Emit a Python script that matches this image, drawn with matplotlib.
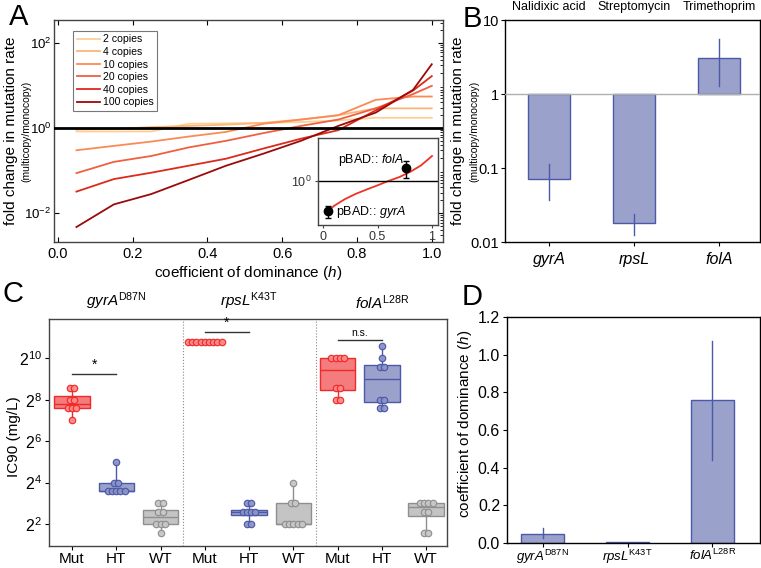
import numpy as np
import matplotlib
matplotlib.use("Agg")
import matplotlib.pyplot as plt

plt.rcParams['font.family'] = ['Liberation Sans', 'DejaVu Sans']
plt.rcParams['mathtext.fontset'] = 'custom'
plt.rcParams['mathtext.rm'] = 'Liberation Sans'
plt.rcParams['mathtext.it'] = 'Liberation Sans:italic'
plt.rcParams['mathtext.bf'] = 'Liberation Sans:bold'
plt.rcParams['axes.linewidth'] = 1.0

# ---------------- Panel A data ----------------
h_grid = [0.05, 0.15, 0.25, 0.35, 0.45, 0.55, 0.65, 0.75, 0.85, 0.95, 1.0]
copies_labels = ['2 copies', '4 copies', '10 copies', '20 copies', '40 copies', '100 copies']
fc_2 = [0.83, 0.83, 0.83, 1.26, 1.29, 1.32, 1.38, 1.51, 1.74, 1.74, 1.74]
fc_4 = [0.93, 0.95, 1.05, 1.12, 1.20, 1.32, 1.58, 2.0, 2.9, 2.9, 2.9]
fc_10 = [0.30, 0.38, 0.48, 0.63, 0.81, 1.26, 1.58, 2.0, 4.6, 5.5, 5.5]
fc_20 = [0.087, 0.16, 0.22, 0.35, 0.50, 0.76, 1.12, 1.58, 2.9, 6.3, 9.8]
fc_40 = [0.032, 0.063, 0.089, 0.13, 0.19, 0.33, 0.56, 0.89, 2.6, 7.6, 16.6]
fc_100 = [0.0047, 0.016, 0.028, 0.06, 0.13, 0.25, 0.50, 1.12, 2.3, 7.9, 31.6]
copies_colors = ['#fdcf95', '#fdb57a', '#fc8a55', '#f0603f', '#dc2a1c', '#9b0a0a']

# inset
inset_h = [0.05, 0.1, 0.2, 0.3, 0.4, 0.5, 0.6, 0.7, 0.8, 0.9, 1.0]
inset_fc = [0.071, 0.11, 0.20, 0.32, 0.47, 0.68, 1.0, 1.41, 2.24, 3.98, 9.1]

# ---------------- Panel B data ----------------
genes = ['gyrA', 'rpsL', 'folA']
drugs = ['Nalidixic acid', 'Streptomycin', 'Trimethoprim']
fold_change = [0.07, 0.0178, 3.1]
fold_lo = [0.037, 0.0123, 1.27]
fold_hi = [0.112, 0.0236, 5.6]

# ---------------- Panel D data ----------------
dominance = [0.049, 0.005, 0.757]
dom_lo = [0.026, 0.004, 0.44]
dom_hi = [0.079, 0.006, 1.07]
mutations = ['D87N', 'K43T', 'L28R']

# ---------------- Panel C data (IC90, mg/L) ----------------
group_names = ['Mut', 'HT', 'WT']
ic90 = {
    ('gyrA', 'Mut'): [384, 384, 256, 256, 192, 192, 192, 128],
    ('gyrA', 'HT'): [32, 16, 16, 12, 12, 12, 12, 12],
    ('gyrA', 'WT'): [8, 8, 6, 6, 4, 4, 4, 3],
    ('rpsL', 'Mut'): [1792] * 9,
    ('rpsL', 'HT'): [8, 8, 6, 6, 6, 6, 4, 4],
    ('rpsL', 'WT'): [16, 8, 8, 4, 4, 4, 4, 4],
    ('folA', 'Mut'): [1024, 1024, 1024, 1024, 384, 384, 256, 256],
    ('folA', 'HT'): [1536, 1024, 768, 768, 256, 256, 192, 192],
    ('folA', 'WT'): [8, 8, 8, 8, 6, 6, 3, 3],
}
sig_labels = ['*', '*', 'n.s.']
sig_heights = [609, 2487, 1911]

W, H = 761, 568
fig = plt.figure(figsize=(W / 100, H / 100), dpi=100)

def fr(l, t, r, b):
    return [l / W, 1 - b / H, (r - l) / W, (b - t) / H]

def fx(x):
    return x / W

def fy(y):
    return 1 - y / H

FS = 10.5
# ================= Panel A =================
axA = fig.add_axes(fr(54, 20, 443, 242))
series = [fc_2, fc_4, fc_10, fc_20, fc_40, fc_100]
for s, lab, c in zip(series, copies_labels, copies_colors):
    axA.plot(h_grid, s, color=c, lw=1.3, label=lab)
axA.axhline(1, color='black', lw=2.0, zorder=5)
axA.set_yscale('log')
axA.set_xlim(-0.01, 1.03)
axA.set_ylim(10 ** -2.68, 10 ** 2.54)
axA.set_xticks([0, 0.2, 0.4, 0.6, 0.8, 1.0])
axA.set_xticklabels(['0.0', '0.2', '0.4', '0.6', '0.8', '1.0'])
axA.set_yticks([1e-2, 1, 1e2])
axA.set_yticklabels(['$10^{-2}$', '$10^{0}$', '$10^{2}$'])
axA.yaxis.set_minor_locator(matplotlib.ticker.LogLocator(base=10, subs=np.arange(2, 10)))
axA.yaxis.set_minor_formatter(matplotlib.ticker.NullFormatter())
axA.tick_params(which='both', direction='in', top=True, right=True, labelsize=FS)
axA.tick_params(axis='y', labelsize=9.5, pad=2)
axA.tick_params(which='minor', left=False, length=2)
for sp in axA.spines.values():
    sp.set_color('#444444')
axA.set_xlabel('coefficient of dominance ($h$)', fontsize=FS + 0.5)
axA.xaxis.set_label_coords(0.5, -0.098)
fig.text(fx(11), fy(131), 'fold change in mutation rate', rotation=90, fontsize=FS + 0.5,
         ha='center', va='center')
fig.text(fx(26), fy(131), '(multicopy/monocopy)', rotation=90, fontsize=7.5,
         ha='center', va='center')
leg = axA.legend(loc='upper left', bbox_to_anchor=(0.05, 0.95), fontsize=7.6, frameon=True,
                 fancybox=False, edgecolor='#555555', handlelength=2.2, handletextpad=0.3,
                 labelspacing=0.25, borderpad=0.3, borderaxespad=0)
leg.get_frame().set_linewidth(0.8)

# inset
axI = fig.add_axes(fr(318, 138, 438, 225))
axI.plot(inset_h, inset_fc, color='#ee3322', lw=1.3)
axI.axhline(1, color='black', lw=1.0)
hx = [dominance[0], dominance[2]]
fyv = [fold_change[0], fold_change[2]]
yerr = [[fold_change[0] - fold_lo[0], fold_change[2] - fold_lo[2]],
        [fold_hi[0] - fold_change[0], fold_hi[2] - fold_change[2]]]
axI.errorbar(hx, fyv, yerr=yerr, fmt='o', color='black', ms=6, capsize=2, elinewidth=1, zorder=6)
axI.set_yscale('log')
axI.set_xlim(-0.046, 1.055)
axI.set_ylim(10 ** -1.69, 10 ** 1.65)
axI.set_xticks([0, 0.5, 1])
axI.set_xticklabels(['0', '0.5', '1'])
axI.set_yticks([1])
axI.set_yticklabels(['$10^{0}$'])
axI.yaxis.set_minor_locator(matplotlib.ticker.NullLocator())
axI.tick_params(labelsize=9, direction='out', length=2.5, pad=2, colors='#444444',
                labelcolor='#333333')
for sp in axI.spines.values():
    sp.set_color('#444444')
axI.text(0.14, 6.3, 'pBAD:: $\\mathit{folA}$', fontsize=9, ha='left', va='center')
axI.text(0.12, 0.066, 'pBAD:: $\\mathit{gyrA}$', fontsize=9, ha='left', va='center')

# ================= Panel B =================
axB = fig.add_axes(fr(505, 20, 760, 242))
xb = np.arange(len(genes))
bar_face = '#9aa2cc'
bar_edge = '#4c58a8'
heights = [v - 1 for v in fold_change]
axB.bar(xb, heights, bottom=1, width=0.5, color=bar_face, edgecolor=bar_edge, lw=1.0, zorder=2)
for i in range(len(genes)):
    axB.plot([xb[i], xb[i]], [fold_lo[i], fold_hi[i]], color=bar_edge, lw=1.0, zorder=3)
axB.axhline(1, color='#b0b0b0', lw=1.0, zorder=3)
axB.set_yscale('log')
axB.set_ylim(0.01, 10)
axB.set_xlim(-0.52, 2.48)
axB.set_yticks([0.01, 0.1, 1, 10])
axB.set_yticklabels(['0.01', '0.1', '1', '10'])
axB.yaxis.set_minor_locator(matplotlib.ticker.NullLocator())
axB.set_xticks(xb)
axB.set_xticklabels(genes, fontstyle='italic', fontsize=FS + 1)
axB.tick_params(axis='y', labelsize=FS, pad=1.5, length=3)
axB.tick_params(axis='x', length=3, pad=4)
for i, d in enumerate(drugs):
    axB.text(xb[i], 12.3, d, ha='center', va='bottom', fontsize=9)
fig.text(fx(458), fy(131), 'fold change in mutation rate', rotation=90, fontsize=FS + 0.5,
         ha='center', va='center')
fig.text(fx(474), fy(131), '(multicopy/monocopy)', rotation=90, fontsize=7.5,
         ha='center', va='center')

# ================= Panel C =================
axC = fig.add_axes(fr(49, 319, 447, 546))
gene_order = ['gyrA', 'rpsL', 'folA']
box_face = {'Mut': '#f47c7c', 'HT': '#9aa2cc', 'WT': '#c4c4c4'}
box_edge = {'Mut': '#ee2a2a', 'HT': '#4c58a8', 'WT': '#8f8f8f'}
pt_face = {'Mut': '#ff8a8a', 'HT': '#8b95c6', 'WT': '#c8c8c8'}
dx = 0.095
pos = 0
for gi, g in enumerate(gene_order):
    for grp in group_names:
        vals = ic90[(g, grp)]
        bp = axC.boxplot([vals], positions=[pos], widths=0.8, whis=(0, 100), patch_artist=True,
                         showcaps=False, showfliers=False, manage_ticks=False)
        for b in bp['boxes']:
            b.set_facecolor(box_face[grp])
            b.set_edgecolor(box_edge[grp])
            b.set_linewidth(1.0)
        for k in ('whiskers', 'medians'):
            for ln in bp[k]:
                ln.set_color(box_edge[grp])
                ln.set_linewidth(1.0)
        uniq = sorted(set(vals))
        for u in uniq:
            n = vals.count(u)
            xs = pos + (np.arange(n) - (n - 1) / 2) * dx
            axC.plot(xs, [u] * n, 'o', ms=4.6, mfc=pt_face[grp], mec=box_edge[grp], mew=0.9,
                     alpha=0.95, zorder=4)
        pos += 1
for sx in (2.5, 5.5):
    axC.axvline(sx, color='#888888', lw=0.8, ls=':')
axC.set_yscale('log', base=2)
axC.set_ylim(2 ** 0.94, 2 ** 11.9)
axC.set_xlim(-0.52, 8.47)
axC.set_yticks([4, 16, 64, 256, 1024])
axC.set_yticklabels(['$2^{2}$', '$2^{4}$', '$2^{6}$', '$2^{8}$', '$2^{10}$'])
axC.yaxis.set_minor_locator(matplotlib.ticker.NullLocator())
axC.set_xticks(range(9))
axC.set_xticklabels(group_names * 3)
axC.tick_params(axis='y', labelsize=FS + 1, length=3, pad=2)
axC.tick_params(axis='x', labelsize=FS + 0.5, length=3, pad=1.5)
for sp in axC.spines.values():
    sp.set_color('#444444')
fig.text(fx(14), fy(437), 'IC90 (mg/L)', rotation=90, fontsize=FS + 0.5, ha='center', va='center')
for gi, g in enumerate(gene_order):
    xm = gi * 3
    axC.plot([xm, xm + 1], [sig_heights[gi]] * 2, color='#333333', lw=1.0)
    axC.text(xm + 0.5, sig_heights[gi] * 1.06, sig_labels[gi], ha='center', va='bottom',
             fontsize=10 if sig_labels[gi] == '*' else 7.5)
    axC.text(xm + 1, 2 ** 12.25, '$\\mathit{%s}^{\\mathrm{%s}}$' % (g, mutations[gi]),
             ha='center', va='bottom', fontsize=FS + 0.5)

# ================= Panel D =================
axD = fig.add_axes(fr(507, 317, 760, 543))
xd = np.arange(3)
axD.bar(xd, dominance, width=0.5, color=bar_face, edgecolor=bar_edge, lw=1.0, zorder=2)
for i in range(3):
    axD.plot([xd[i], xd[i]], [dom_lo[i], dom_hi[i]], color=bar_edge, lw=1.0, zorder=3)
axD.set_ylim(0, 1.2)
axD.set_xlim(-0.42, 2.56)
axD.set_yticks([0, 0.2, 0.4, 0.6, 0.8, 1.0, 1.2])
axD.set_yticklabels(['0.0', '0.2', '0.4', '0.6', '0.8', '1.0', '1.2'])
axD.set_xticks(xd)
axD.set_xticklabels(['$\\mathit{%s}^{\\mathrm{%s}}$' % (g, m) for g, m in zip(genes, mutations)])
axD.tick_params(axis='y', labelsize=FS + 1, length=3, pad=2)
axD.tick_params(axis='x', labelsize=9.5, length=3, pad=0.5)
fig.text(fx(465), fy(424), 'coefficient of dominance ($h$)', rotation=90, fontsize=FS + 0.5,
         ha='center', va='center')

# panel letters
for lab, x, y in [('A', 9, 3), ('B', 463, 5), ('C', 2, 280), ('D', 462, 283)]:
    fig.text(x / W, 1 - y / H, lab, fontsize=21, ha='left', va='top')

fig.savefig('out.png', dpi=100)
